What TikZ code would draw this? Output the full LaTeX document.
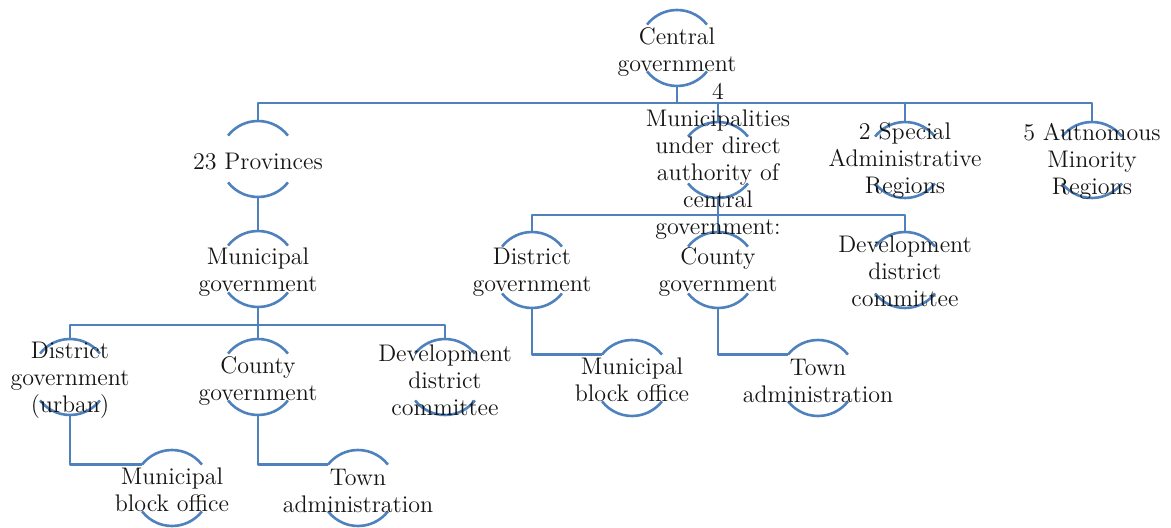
\documentclass[tikz,border=0pt]{standalone}
\usetikzlibrary{calc}
\definecolor{orgblue}{RGB}{79,129,189}
\definecolor{txtgray}{RGB}{20,20,20}
\begin{document}
\begin{tikzpicture}[x=0.5pt, y=0.5pt, line join=round,
	ring/.style={circle, minimum size=38pt, inner sep=0pt, outer sep=0pt},
	lbl/.style={align=center, text=txtgray, inner sep=0pt,
		font=\fontsize{12}{13.5}\selectfont},
	link/.style={draw=orgblue, line width=1.3pt}]
	\def\r{19pt}
	\useasboundingbox (0,0) rectangle (1171,-528);
	% rings
	\node[ring] (cg) at (677,-48) {};
	\node[ring] (prov) at (258,-159) {};
	\node[ring] (mun4) at (718,-160) {};
	\node[ring] (sar) at (905,-160) {};
	\node[ring] (amr) at (1092,-160) {};
	\node[ring] (mgov) at (258,-269) {};
	\node[ring] (dgovu) at (70,-377) {};
	\node[ring] (cgov) at (258,-377) {};
	\node[ring] (ddc) at (445,-377) {};
	\node[ring] (mbo) at (172,-488) {};
	\node[ring] (town) at (358,-488) {};
	\node[ring] (dgov) at (532,-270) {};
	\node[ring] (cgovb) at (718,-270) {};
	\node[ring] (ddcb) at (905,-270) {};
	\node[ring] (mbob) at (632,-378) {};
	\node[ring] (townb) at (818,-378) {};
	\coordinate (bar1) at (0,-103);
	\coordinate (bar2) at (0,-325);
	\coordinate (bar3) at (0,-215);
	% connectors
	\draw[link] (cg.south) -- (cg|-bar1);
	\draw[link] (prov.north) -- (prov|-bar1) -- (amr|-bar1) -- (amr.north);
	\draw[link] (mun4.north) -- (mun4|-bar1) (sar.north) -- (sar|-bar1);
	\draw[link] (prov.south) -- (mgov.north);
	\draw[link] (mgov.south) -- (mgov|-bar2);
	\draw[link] (dgovu.north) -- (dgovu|-bar2) -- (ddc|-bar2) -- (ddc.north);
	\draw[link] (cgov.north) -- (cgov|-bar2);
	\draw[link] (dgovu.south) |- (mbo.142);
	\draw[link] (cgov.south) |- (town.142);
	\draw[link] (mun4.south) -- (mun4|-bar3);
	\draw[link] (dgov.north) -- (dgov|-bar3) -- (ddcb|-bar3) -- (ddcb.north);
	\draw[link] (cgovb.north) -- (cgovb|-bar3);
	\draw[link] (dgov.south) |- (mbob.142);
	\draw[link] (cgovb.south) |- (townb.142);
	% arcs
	\foreach \n in {cg,prov,mun4,sar,amr,mgov,dgovu,cgov,ddc,mbo,town,dgov,cgovb,ddcb,mbob,townb}{
		\draw[link] ([shift={(38:\r)}]\n.center) arc[start angle=38, end angle=142, radius=\r]
			([shift={(218:\r)}]\n.center) arc[start angle=218, end angle=322, radius=\r];
	}
	% labels
	\node[lbl] (cg-t) at ($(cg)+(0,-4)$) {Central\\government};
	\node[lbl] (prov-t) at ($(prov)+(0,-3)$) {23 Provinces};
	\node[lbl] (mun4-t) at ($(mun4)+(0,-1)$) {4\\Municipalities\\under direct\\authority of\\central\\government:};
	\node[lbl] (sar-t) at ($(sar)+(0,-1)$) {2 Special\\Administrative\\Regions};
	\node[lbl] (amr-t) at ($(amr)+(0,-1)$) {5 Autnomous\\Minority\\Regions};
	\node[lbl] (mgov-t) at ($(mgov)+(0,-3)$) {Municipal\\government};
	\node[lbl] (dgovu-t) at ($(dgovu)+(0,-3)$) {District\\government\\(urban)};
	\node[lbl] (cgov-t) at ($(cgov)+(0,-4)$) {County\\government};
	\node[lbl] (ddc-t) at ($(ddc)+(0,-3)$) {Development\\district\\committee};
	\node[lbl] (mbo-t) at ($(mbo)+(0,-2)$) {Municipal\\block office};
	\node[lbl] (town-t) at ($(town)+(0,-3)$) {Town\\administration};
	\node[lbl] (dgov-t) at ($(dgov)+(0,-2)$) {District\\government};
	\node[lbl] (cgovb-t) at ($(cgovb)+(0,-2)$) {County\\government};
	\node[lbl] (ddcb-t) at ($(ddcb)+(0,-1)$) {Development\\district\\committee};
	\node[lbl] (mbob-t) at ($(mbob)+(0,-2)$) {Municipal\\block office};
	\node[lbl] (townb-t) at ($(townb)+(0,-3)$) {Town\\administration};
\end{tikzpicture}
\end{document}
